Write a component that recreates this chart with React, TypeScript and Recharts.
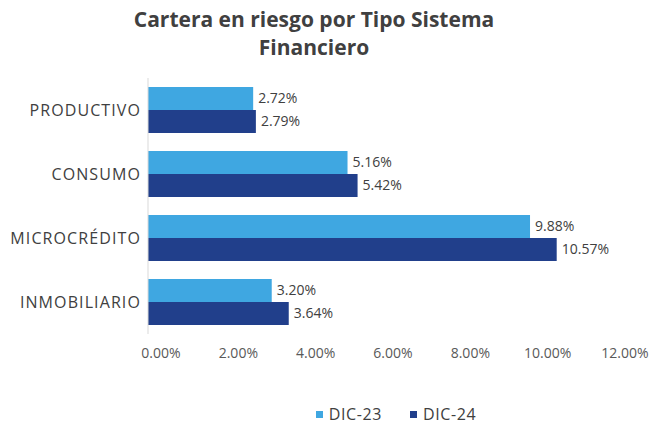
import React from 'react';
import { BarChart, Bar, XAxis, YAxis, Legend, LabelList } from 'recharts';

const categories = ['PRODUCTIVO', 'CONSUMO', 'MICROCRÉDITO', 'INMOBILIARIO'];
const dic23 = [2.72, 5.16, 9.88, 3.2];
const dic24 = [2.79, 5.42, 10.57, 3.64];
const xTicks = [0, 2, 4, 6, 8, 10, 12];

const LIGHT = '#3fa7e1';
const DARK = '#213f8b';
const TEXT = '#404040';
const FONT = '"Open Sans", sans-serif';

const data = categories.map((name, i) => ({ name, dic23: dic23[i], dic24: dic24[i] }));

const pct = (v: any) => `${Number(v).toFixed(2)}%`;

function LegendBox() {
  const items = [
    { label: 'DIC-23', color: LIGHT },
    { label: 'DIC-24', color: DARK },
  ];
  return (
    <div style={{ display: 'flex', justifyContent: 'center', paddingTop: 29, paddingLeft: 180, fontFamily: FONT }}>
      {items.map((it) => (
        <div key={it.label} style={{ display: 'flex', alignItems: 'center', margin: '0 14px', color: TEXT, fontSize: 16, letterSpacing: 0.6 }}>
          <span style={{ width: 7, height: 7, background: it.color, display: 'inline-block', marginRight: 6 }} />
          {it.label}
        </div>
      ))}
    </div>
  );
}

export default function App() {
  return (
    <div style={{ position: 'absolute', left: 0, top: 0, width: 652, height: 425, background: '#fff' }}>
      <div
        style={{
          position: 'absolute',
          left: 0,
          top: 5,
          width: 628,
          textAlign: 'center',
          fontFamily: FONT,
          fontWeight: 700,
          fontSize: 21,
          lineHeight: '28px',
          color: TEXT,
        }}
      >
        Cartera en riesgo por Tipo Sistema
        <br />
        Financiero
      </div>
      <BarChart
        width={652}
        height={425}
        data={data}
        layout="vertical"
        margin={{ top: 78, right: 40, bottom: 0, left: 0 }}
        barCategoryGap={18}
        barGap={0}
      >
        <XAxis
          type="number"
          domain={[0, 12]}
          ticks={xTicks}
          tickFormatter={pct}
          axisLine={false}
          tickLine={false}
          tickSize={0}
          tickMargin={14}
          height={40}
          interval={0}
          tick={{ fontSize: 14, fill: '#595959', fontFamily: FONT, dx: 13 }}
        />
        <YAxis
          type="category"
          dataKey="name"
          width={148}
          tickLine={false}
          tickSize={0}
          tickMargin={7}
          axisLine={{ stroke: '#d9d9d9' }}
          tick={{ fontSize: 16, fill: TEXT, fontFamily: FONT, letterSpacing: 1.1 }}
        />
        <Legend verticalAlign="bottom" height={51} content={() => <LegendBox />} />
        <Bar dataKey="dic23" name="DIC-23" fill={LIGHT} barSize={23} isAnimationActive={false}>
          <LabelList dataKey="dic23" position="right" offset={5} formatter={pct} style={{ fontSize: 14, fill: TEXT, fontFamily: FONT }} />
        </Bar>
        <Bar dataKey="dic24" name="DIC-24" fill={DARK} barSize={23} isAnimationActive={false}>
          <LabelList dataKey="dic24" position="right" offset={5} formatter={pct} style={{ fontSize: 14, fill: TEXT, fontFamily: FONT }} />
        </Bar>
      </BarChart>
    </div>
  );
}
